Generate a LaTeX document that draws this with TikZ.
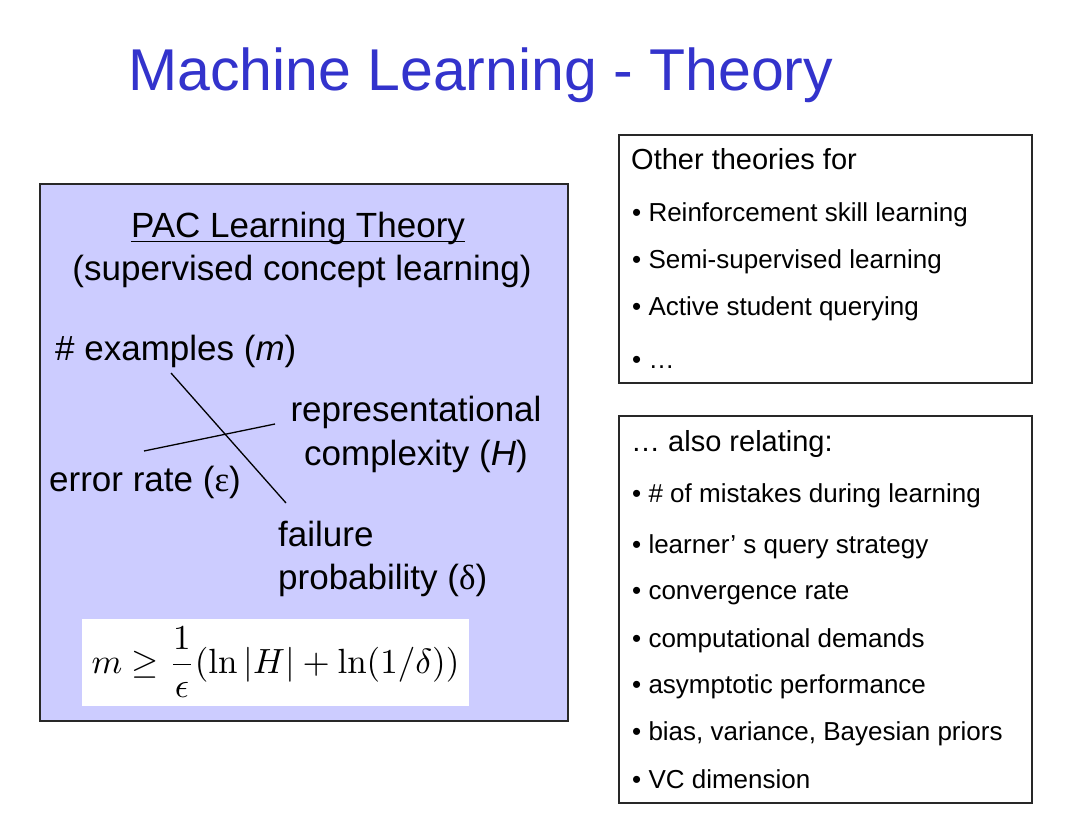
\documentclass[tikz,border=0pt]{standalone}
\usepackage[no-math]{fontspec}
\setmainfont{Liberation Sans}
\newfontfamily\grk{Liberation Serif}
\definecolor{titleblue}{RGB}{51,51,204}
\definecolor{lav}{RGB}{204,204,255}
\definecolor{boxline}{RGB}{40,40,40}
\begin{document}
\begin{tikzpicture}[x=1pt,y=-1pt,
  txt/.style={inner sep=0pt,anchor=base west},
  big/.style={font=\fontsize{35}{42}\selectfont},
  head/.style={txt,font=\fontsize{29}{35}\selectfont},
  item/.style={txt,font=\fontsize{26}{31}\selectfont},
  frame/.style={draw=boxline,line width=1.5pt},
  link/.style={draw=black,line width=1.3pt}]
\useasboundingbox[fill=white] (0,0) rectangle (1080,834);
% title
\node[txt,text=titleblue,font=\fontsize{59}{70}\selectfont] (title) at (128,91) {Machine Learning - Theory};
% left box
\path[frame,fill=lav] (40,184) rectangle (568,721);
\node[txt,big,anchor=base] (pac) at (298,238) {PAC Learning Theory};
\draw[line width=1.3pt] ([yshift=-3.5pt]pac.base west) -- ([yshift=-3.5pt]pac.base east);
\node[txt,big,anchor=base] (sup) at (302,281) {(supervised concept learning)};
\node[txt,big] (ex) at (55,361) {\# examples (\textit{m})};
\node[txt,big,anchor=base] (rep) at (416,422) {representational};
\node[txt,big,anchor=base] (cpx) at (416,465) {complexity (\textit{H})};
\node[txt,big] (err) at (49,492) {error rate ({\grk ε})};
\node[txt,big] (fail) at (278,546) {failure};
\node[txt,big] (prob) at (278,589) {probability ({\grk δ})};
\coordinate (a1) at (171,373);
\coordinate (a2) at (286,503);
\coordinate (b1) at (144,451);
\coordinate (b2) at (275,424);
\draw[link] (a1) -- (a2);
\draw[link] (b1) -- (b2);
% formula
\path[fill=white] (82,619) rectangle (469,706);
\node[inner sep=0pt] (formula) at (275.5,662)
  {\scalebox{3.5}{$\displaystyle m \geq \frac{1}{\epsilon}(\ln|H| + \ln(1/\delta))$}};
% right box 1
\path[frame] (619,135) rectangle (1032,383);
\node[head] (other) at (631,170) {Other theories for};
\node[item] (r1) at (632,222) {• Reinforcement skill learning};
\node[item] (r2) at (632,269) {• Semi-supervised learning};
\node[item] (r3) at (632,316) {• Active student querying};
\node[item] (r4) at (632,369) {• …};
% right box 2
\path[frame] (619,416) rectangle (1032,803);
\node[head] (also) at (631,452) {… also relating:};
\node[item] (s1) at (632,503) {• \# of mistakes during learning};
\node[item] (s2) at (632,553) {• learner’ s query strategy};
\node[item] (s3) at (632,599) {• convergence rate};
\node[item] (s4) at (632,647) {• computational demands};
\node[item] (s5) at (632,693) {• asymptotic performance};
\node[item] (s6) at (632,740) {• bias, variance, Bayesian priors};
\node[item] (s7) at (632,788) {• VC dimension};
\end{tikzpicture}
\end{document}
